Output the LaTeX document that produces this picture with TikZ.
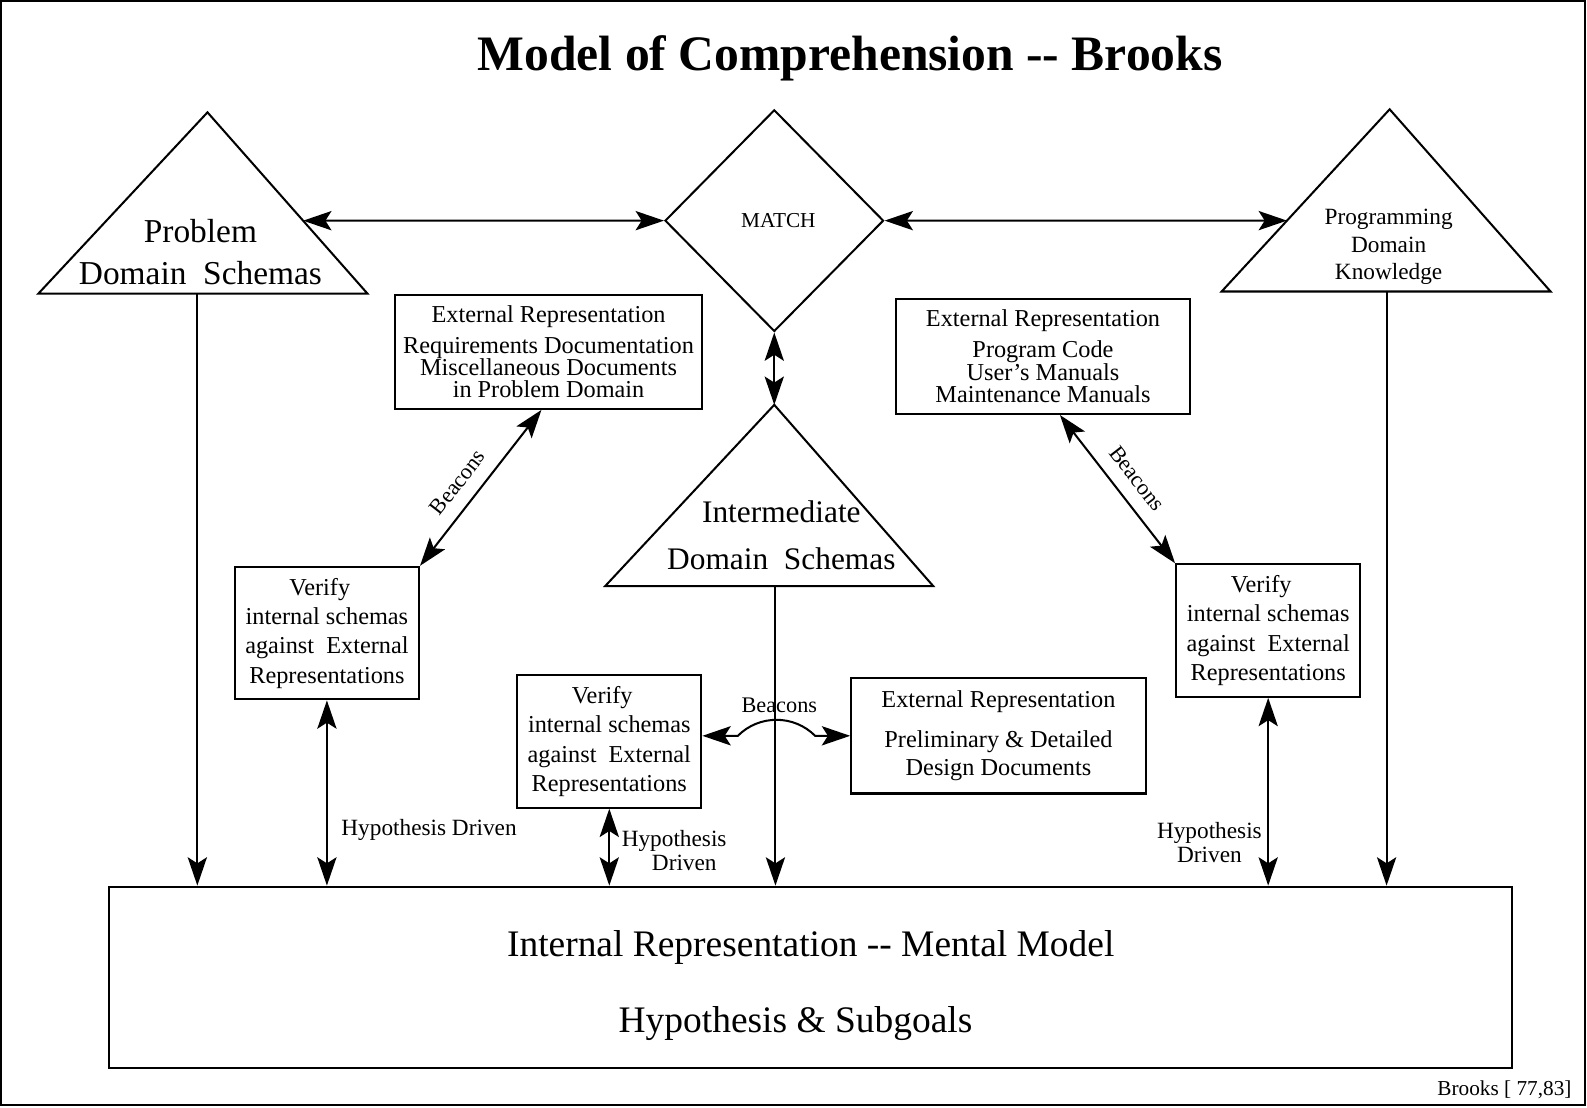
\documentclass[tikz,border=0pt]{standalone}
\usepackage{fontspec}
\setmainfont{Liberation Serif}
\usetikzlibrary{arrows.meta,shapes.geometric,calc}

\begin{document}
\begin{tikzpicture}[x=1pt,y=-1pt,line width=2pt,
	>={Stealth[length=28pt,width=19pt,inset=6pt]},
	box/.style={draw,inner sep=2pt,align=center,font=\fontsize{24}{22}\selectfont},
	verify/.style={box,minimum width=182pt,minimum height=131pt,font=\fontsize{24}{29}\selectfont},
	lbl/.style={align=center,font=\fontsize{23}{24}\selectfont}]

	\useasboundingbox (0,0) rectangle (1568,1094);
	\draw (1,1) rectangle (1566,1092);

	\node[font=\bfseries\fontsize{49}{50}\selectfont,anchor=base] (title) at (840,70) {Model of Comprehension -{}- Brooks};

	% schemas and knowledge
	\draw (205,111) coordinate (pds top) -- (363,290) coordinate (pds r)
	-- (38,290) coordinate (pds l) -- cycle;
	\node[align=center,font=\fontsize{33}{42}\selectfont] (pds) at (198,249) {Problem\\Domain\ \ Schemas};

	\draw (1373,108) coordinate (pdk top) -- (1532,288) coordinate (pdk r)
	-- (1207,288) coordinate (pdk l) -- cycle;
	\node[align=center,font=\fontsize{23}{27}\selectfont] (pdk) at (1372,244) {Programming\\Domain\\Knowledge};

	\draw (765,400) coordinate (ids top) -- (922,579) coordinate (ids r)
	-- (598,579) coordinate (ids l) -- cycle;
	\node[align=center,font=\fontsize{31}{46}\selectfont] (ids) at (772,529) {Intermediate\\Domain\ \ Schemas};

	\node[draw,diamond,minimum width=216pt,minimum height=219pt,inner sep=0pt,font=\fontsize{21}{22}\selectfont] (match) at (765,218) {\hspace*{8pt}MATCH};

	% external representations
	\node[box,minimum width=304pt,minimum height=113pt] (extprob) at (542,347.5) {External Representation\\[9pt] Requirements Documentation\\ Miscellaneous Documents\\ in Problem Domain};
	\node[box,minimum width=291pt,minimum height=114pt] (extcode) at (1030.5,352) {External Representation\\[9pt] Program Code\\ User's Manuals\\ Maintenance Manuals};
	\node[box,minimum width=291pt,minimum height=114pt,font=\fontsize{24}{28}\selectfont] (extdes) at (986.5,727) {External Representation\\[11pt] Preliminary \& Detailed\\ Design Documents};

	\node[verify] (verL) at (323,625.5) {Verify\hspace*{14pt}\\ internal schemas\\ against\ \ External\\ Representations};
	\node[verify] (verM) at (602,732.5) {Verify\hspace*{14pt}\\ internal schemas\\ against\ \ External\\ Representations};
	\node[verify] (verR) at (1253,623) {Verify\hspace*{14pt}\\ internal schemas\\ against\ \ External\\ Representations};

	\node[draw,minimum width=1386pt,minimum height=179pt,align=center,font=\fontsize{37}{75}\selectfont] (mental) at (801,965.5) {\rule{0pt}{42pt}Internal Representation -{}- Mental Model\\ Hypothesis \& Subgoals\hspace*{30pt}};

	\node[anchor=base east,font=\fontsize{21}{22}\selectfont] (cite) at (1557,1082) {Brooks [ 77,83]};

	% matching
	\draw[<->] ($(pds top)!0.598!(pds r)$) -- (match.west);
	\draw[<->] (match.east) -- ($(pdk top)!0.611!(pdk l)$);
	\draw[<->] (match.south) -- (ids top);

	\coordinate (pds foot) at ($(pds l)!0.483!(pds r)$);
	\coordinate (ids foot) at ($(ids l)!0.519!(ids r)$);
	\coordinate (pdk foot) at ($(pdk l)!0.5015!(pdk r)$);
	\draw[->] (pds foot) -- (pds foot |- mental.north);
	\draw[->] (ids foot) -- (ids foot |- mental.north);
	\draw[->] (pdk foot) -- (pdk foot |- mental.north);

	% beacons
	\draw[<->] (verL.north east) -- ($(extprob.south west)!0.477!(extprob.south east)$)
	node[lbl,sloped,pos=0.45,above=10pt,font=\fontsize{22}{22}\selectfont] (bcnL) {Beacons};
	\draw[<->] ($(extcode.south west)!0.557!(extcode.south east)$) -- (verR.north west)
	node[lbl,sloped,pos=0.52,above=10pt,font=\fontsize{22}{22}\selectfont] (bcnR) {Beacons};
	\draw[<->] ($(verM.east)+(0,-5.5)$) -- ++(35,0) arc[start angle=225,end angle=315,radius=54] -- (extdes.west);
	\node[lbl,font=\fontsize{22}{22}\selectfont] (bcnM) at (770,697) {Beacons};

	% hypothesis driven
	\draw[<->] (verL.south) -- (verL.south |- mental.north)
	node[lbl,pos=0.7,right=10pt] (hypL) {Hypothesis Driven};
	\draw[<->] (verM.south) -- (verM.south |- mental.north)
	node[lbl,pos=0.54,right=8pt] (hypM) {Hypothesis\\ \hspace*{20pt}Driven};
	\draw[<->] (verR.south) -- (verR.south |- mental.north)
	node[lbl,pos=0.77,left=2pt,font=\fontsize{23}{23}\selectfont] (hypR) {Hypothesis\\ Driven};

\end{tikzpicture}
\end{document}
